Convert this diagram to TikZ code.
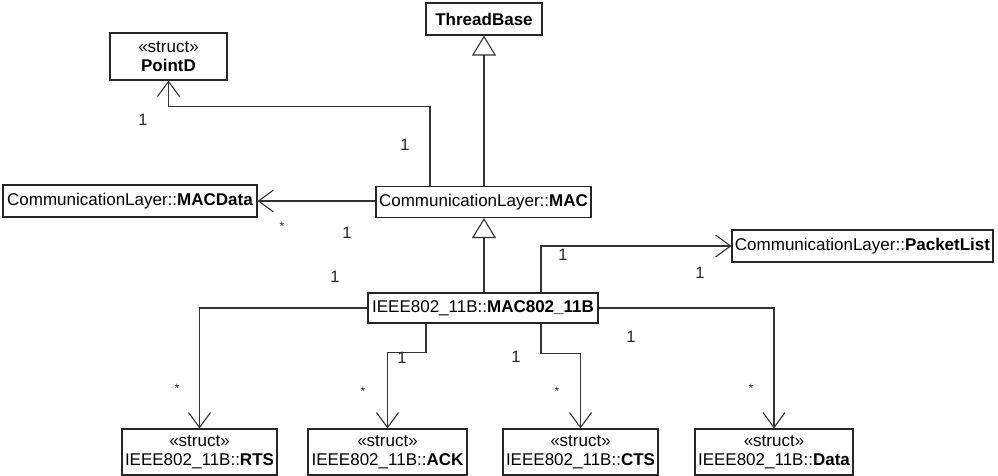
\documentclass[tikz,border=0pt]{standalone}
\usepackage{fontspec}
\setmainfont{Liberation Sans}
\usetikzlibrary{arrows.meta,calc}
\begin{document}
\begin{tikzpicture}[x=1pt,y=-1pt,
  cls/.style={draw=black!85, line width=1.1pt, inner sep=0pt, minimum height=32pt, align=center,
    font=\fontsize{17}{19}\selectfont},
  st/.style={cls, minimum height=46pt},
  assoc/.style={draw=black!80, line width=1.1pt, -{Straight Barb[length=15pt,width=22pt,line width=1.1pt]}},
  gen/.style={draw=black!80, line width=1.1pt, -{Triangle[open,length=20pt,width=24pt,line width=1.1pt,fill=white]}},
  lab/.style={inner sep=0pt, font=\fontsize{16.5}{18}\selectfont, text=black!85},
  star/.style={inner sep=0pt, font=\fontsize{12}{14}\selectfont, text=black!85}]
\useasboundingbox (0,0) rectangle (998,476);

\node[cls, minimum width=116pt] (tb) at (484,19) {\textbf{ThreadBase}};
\node[st, minimum width=117pt, minimum height=47pt] (pd) at (168.5,56.5) {«struct»\\\textbf{PointD}};
\node[cls, minimum width=254pt] (md) at (130,201) {CommunicationLayer::\textbf{MACData}};
\node[cls, minimum width=215pt, minimum height=31pt] (mac) at (483.5,202) {CommunicationLayer::\textbf{MAC}};
\node[cls, minimum width=261pt] (pl) at (862.5,246) {CommunicationLayer::\textbf{PacketList}};
\node[cls, minimum width=230pt, minimum height=30pt] (m11) at (483,308) {IEEE802\_11B::\textbf{MAC802\_11B}};
\node[st, minimum width=155pt] (rts) at (199.5,452) {«struct»\\IEEE802\_11B::\textbf{RTS}};
\node[st, minimum width=159pt] (ack) at (387.5,452) {«struct»\\IEEE802\_11B::\textbf{ACK}};
\node[st, minimum width=155pt] (cts) at (580.5,452) {«struct»\\IEEE802\_11B::\textbf{CTS}};
\node[st, minimum width=158pt] (data) at (774,452) {«struct»\\IEEE802\_11B::\textbf{Data}};

\draw[gen] (mac.north -| tb.south) -- (tb.south);
\draw[assoc] ([xshift=-53.5pt]mac.north) -- ++(0,-79) -| (pd.south);
\draw[assoc] (mac.west |- md.east) -- (md.east);
\draw[gen] (m11.north -| tb.south) -- (mac.south -| tb.south);
\draw[assoc] ([xshift=58pt]m11.north) |- (pl.west);
\draw[assoc] (m11.west) -| (rts.north);
\draw[assoc] ([xshift=-57pt]m11.south) -- ++(0,29) -| (ack.north);
\draw[assoc] ([xshift=58pt]m11.south) -- ++(0,30) -| (cts.north);
\draw[assoc] (m11.east) -| (data.north);

\node[lab] (l1) at (143,120) {1};
\node[lab] (l2) at (405,145) {1};
\node[star] (l3) at (282,226) {*};
\node[lab] (l4) at (347,233) {1};
\node[lab] (l5) at (335,277) {1};
\node[lab] (l6) at (563,255) {1};
\node[lab] (l7) at (700,273) {1};
\node[star] (l8) at (177,388) {*};
\node[lab] (l9) at (402,358) {1};
\node[star] (l10) at (363,391) {*};
\node[lab] (l11) at (516,357) {1};
\node[star] (l12) at (557,391) {*};
\node[lab] (l13) at (631,337) {1};
\node[star] (l14) at (751,388) {*};
\end{tikzpicture}
\end{document}
